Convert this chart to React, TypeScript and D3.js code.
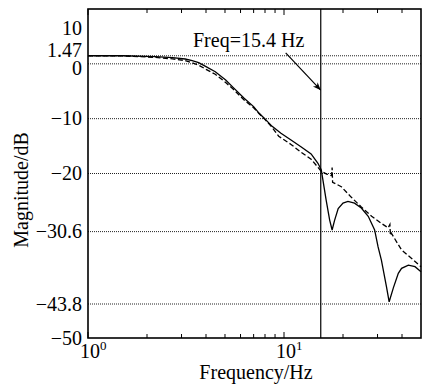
import React from "react";
import * as d3 from "d3";

const solidFreq = [1, 1.5, 2.2, 2.7, 3.13, 3.4, 3.67, 4.0, 4.46, 5.04, 5.5, 6.26, 7.0, 7.47, 7.93, 8.7, 9.65, 10.86, 12.2, 13.75, 14.9, 15.5, 15.8, 16.4, 17.1, 17.6, 18.1, 18.9, 20.0, 21.2, 22.9, 24.8, 26.9, 28.5, 29.0, 30.2, 31.4, 33.3, 34.4, 36.1, 38.3, 39.8, 43.1, 46.6, 50];
const solidMag = [1.47, 1.47, 1.3, 1.12, 0.88, 0.6, 0.21, -0.5, -1.44, -2.95, -4.3, -6.29, -7.8, -9.02, -9.93, -11.4, -12.67, -13.89, -15.11, -16.44, -18.14, -19.36, -21.2, -24.8, -28.5, -30.3, -28.6, -26.4, -25.4, -25.1, -25.4, -26.3, -27.8, -29.7, -30.3, -33.4, -35.8, -40.6, -43.4, -40.9, -38.2, -37.3, -36.7, -37.0, -37.9];

const dashFreq = [1, 1.5, 2.2, 2.7, 3.13, 3.4, 3.67, 4.0, 4.46, 5.04, 5.5, 6.26, 7.0, 7.47, 7.93, 8.7, 9.4, 10.86, 12.2, 13.75, 14.6, 15.5, 16.5, 17.5, 17.6, 17.7, 19.6, 22.0, 24.8, 28.0, 31.4, 34.0, 34.7, 34.9, 35.3, 39.8, 44.8, 50];
const dashMag = [1.47, 1.45, 1.18, 0.9, 0.6, 0.2, -0.25, -1.0, -1.9, -3.4, -4.6, -6.6, -8.0, -9.1, -10.0, -11.6, -13.2, -14.7, -16.1, -17.4, -18.5, -19.6, -20.1, -20.4, -18.9, -21.6, -22.4, -24.3, -26.1, -27.8, -29.1, -29.9, -29.3, -31.3, -30.9, -33.95, -35.5, -37.0];

const yTickValues = [10, 1.47, 0, -10, -20, -30.6, -43.8, -50];
const yTickLabels = ["10", "1.47", "0", "\u221210", "\u221220", "\u221230.6", "\u221243.8", "\u221250"];
const gridValues = [1.47, 0, -10, -20, -30.6, -43.8];
const xMajor = [1, 10];
const xMajorExp = ["0", "1"];
const xMinor = [2, 3, 4, 5, 6, 7, 8, 9, 20, 30, 40];
const markerFreq = 15.4;
const annotationText = "Freq=15.4 Hz";
const xTitle = "Frequency/Hz";
const yTitle = "Magnitude/dB";

const W = 430, H = 384;
const L = 88, R = 421, T = 9, B = 338;
const FONT = "'Liberation Serif', 'Times New Roman', serif";
const FS = 20;

export default function App() {
  const x = d3.scaleLog().domain([1, 50]).range([L, R]);
  const y = d3.scaleLinear().domain([-50, 10]).range([B, T]);
  const line = d3.line<[number, number]>().x(d => x(d[0])).y(d => y(d[1]));
  const solidPts = solidFreq.map((f, i) => [f, solidMag[i]] as [number, number]);
  const dashPts = dashFreq.map((f, i) => [f, dashMag[i]] as [number, number]);
  const labelShift: Record<string, number> = { "10": 19, "1.47": -5, "0": 5 };

  const ax0 = x(10.2), ay0 = y(2.0), ax1 = x(markerFreq), ay1 = y(-4.8);

  return (
    <svg width={W} height={H} style={{ position: "absolute", left: 0, top: 0, background: "#fff" }} fontFamily={FONT}>
      <defs>
        <marker id="arr" viewBox="0 0 10 10" refX="10" refY="5" markerWidth="11" markerHeight="8" orient="auto" markerUnits="userSpaceOnUse">
          <path d="M0,1 L10,5 L0,9 L3,5 Z" fill="#000" />
        </marker>
      </defs>
      {gridValues.map((v, i) => (
        <line key={"g" + i} x1={L} x2={R} y1={y(v)} y2={y(v)} stroke="#222" strokeWidth={1} strokeDasharray="1,1" />
      ))}
      <line x1={x(markerFreq)} x2={x(markerFreq)} y1={T} y2={B} stroke="#000" strokeWidth={1.2} />
      <path d={line(dashPts) || ""} fill="none" stroke="#000" strokeWidth={1.3} strokeDasharray="5,2.5" />
      <path d={line(solidPts) || ""} fill="none" stroke="#000" strokeWidth={1.3} />
      <rect x={L} y={T} width={R - L} height={B - T} fill="none" stroke="#000" strokeWidth={1.6} />
      {xMinor.map((f, i) => (
        <g key={"m" + i}>
          <line x1={x(f)} x2={x(f)} y1={B} y2={B - 4} stroke="#000" strokeWidth={1} />
          <line x1={x(f)} x2={x(f)} y1={T} y2={T + 4} stroke="#000" strokeWidth={1} />
        </g>
      ))}
      {xMajor.map((f, i) => (
        <g key={"M" + i}>
          <line x1={x(f)} x2={x(f)} y1={B} y2={B - 6} stroke="#000" strokeWidth={1} />
          <line x1={x(f)} x2={x(f)} y1={T} y2={T + 6} stroke="#000" strokeWidth={1} />
          <text x={x(f) - 8} y={358} textAnchor="start" fontSize={FS}>
            10<tspan fontSize={13} dy={-8}>{xMajorExp[i]}</tspan>
          </text>
        </g>
      ))}
      {yTickValues.map((v, i) => (
        <text key={"yl" + i} x={82} y={y(v) + (labelShift[yTickLabels[i]] || 0)} dy="0.33em" textAnchor="end" fontSize={FS}>
          {yTickLabels[i]}
        </text>
      ))}
      <text x={193} y={47} fontSize={FS}>{annotationText}</text>
      <line x1={ax0} y1={ay0} x2={ax1} y2={ay1} stroke="#000" strokeWidth={1.2} markerEnd="url(#arr)" />
      <text x={256} y={379} textAnchor="middle" fontSize={FS}>{xTitle}</text>
      <text transform={`translate(28,190) rotate(-90)`} textAnchor="middle" fontSize={FS}>{yTitle}</text>
    </svg>
  );
}
